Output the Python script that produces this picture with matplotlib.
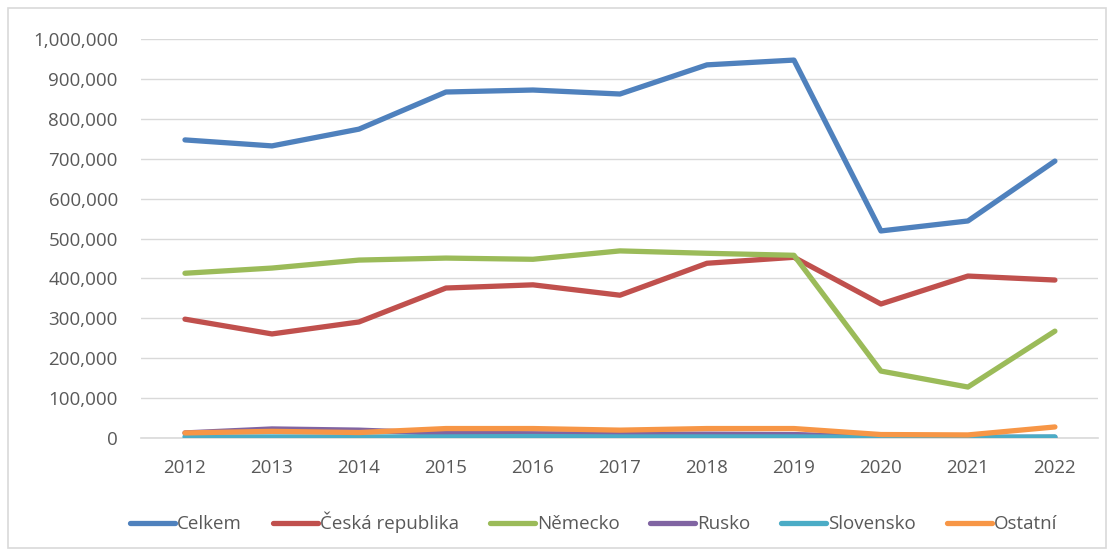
import matplotlib
matplotlib.use("Agg")
import matplotlib.pyplot as plt
from matplotlib.patches import Rectangle
from matplotlib.ticker import FuncFormatter

years = ["2012", "2013", "2014", "2015", "2016", "2017", "2018", "2019", "2020", "2021", "2022"]

celkem = [747000, 732000, 774000, 867000, 872000, 862000, 935000, 947000, 519000, 544000, 694000]
ceska = [298000, 261000, 291000, 376000, 384000, 358000, 438000, 453000, 336000, 406000, 396000]
nemecko = [413000, 426000, 446000, 451000, 448000, 469000, 463000, 458000, 168000, 128000, 268000]
rusko = [13000, 23000, 20000, 12000, 11000, 10000, 10000, 9000, 3000, 2000, 2000]
slovensko = [3000, 3000, 3000, 3000, 4000, 3000, 3000, 3000, 2000, 2000, 3000]
ostatni = [13000, 17000, 14000, 24000, 24000, 20000, 24000, 24000, 9000, 8000, 28000]

labels = ["Celkem", "Česká republika", "Německo", "Rusko", "Slovensko", "Ostatní"]
colors = ["#4f81bd", "#c0504d", "#9bbb59", "#8064a2", "#4bacc6", "#f79646"]

plt.rcParams['font.family'] = ['Open Sans', 'DejaVu Sans']

fig = plt.figure(figsize=(11.14, 5.56), dpi=100)
ax = fig.add_axes([0.127, 0.212, 0.859, 0.718])

# outer frame like the spreadsheet chart area
fig.patches.append(Rectangle((0.007, 0.014), 0.986, 0.972, transform=fig.transFigure,
                             fill=False, edgecolor="#d9d9d9", linewidth=1.2))

x = range(len(years))
series = [celkem, ceska, nemecko, rusko, slovensko, ostatni]
for i in range(len(series)):
    ax.plot(x, series[i], color=colors[i], linewidth=3.8, label=labels[i],
            solid_capstyle="round", solid_joinstyle="round", zorder=3)

ax.set_xlim(-0.5, len(years) - 0.5)
ax.set_ylim(0, 1000000)
ax.set_yticks(range(0, 1000001, 100000))
ax.yaxis.set_major_formatter(FuncFormatter(lambda v, p: f"{int(v):,}"))
ax.set_xticks(list(x))
ax.set_xticklabels(years)
ax.grid(axis="y", color="#d9d9d9", linewidth=1)
ax.set_axisbelow(True)
for s in ["top", "right", "left"]:
    ax.spines[s].set_visible(False)
ax.spines["bottom"].set_color("#d9d9d9")
ax.spines["bottom"].set_linewidth(1.2)
ax.tick_params(axis="both", length=0, labelsize=13.5, colors="#595959")
ax.tick_params(axis="y", pad=17)
ax.tick_params(axis="x", pad=15)

leg = fig.legend(loc="center", bbox_to_anchor=(0.533, 0.06), ncol=6, frameon=False,
                 fontsize=13.5, handlelength=2.4, handletextpad=0.1, columnspacing=1.65)
for t in leg.get_texts():
    t.set_color("#595959")

fig.savefig("out.png", dpi=100)
